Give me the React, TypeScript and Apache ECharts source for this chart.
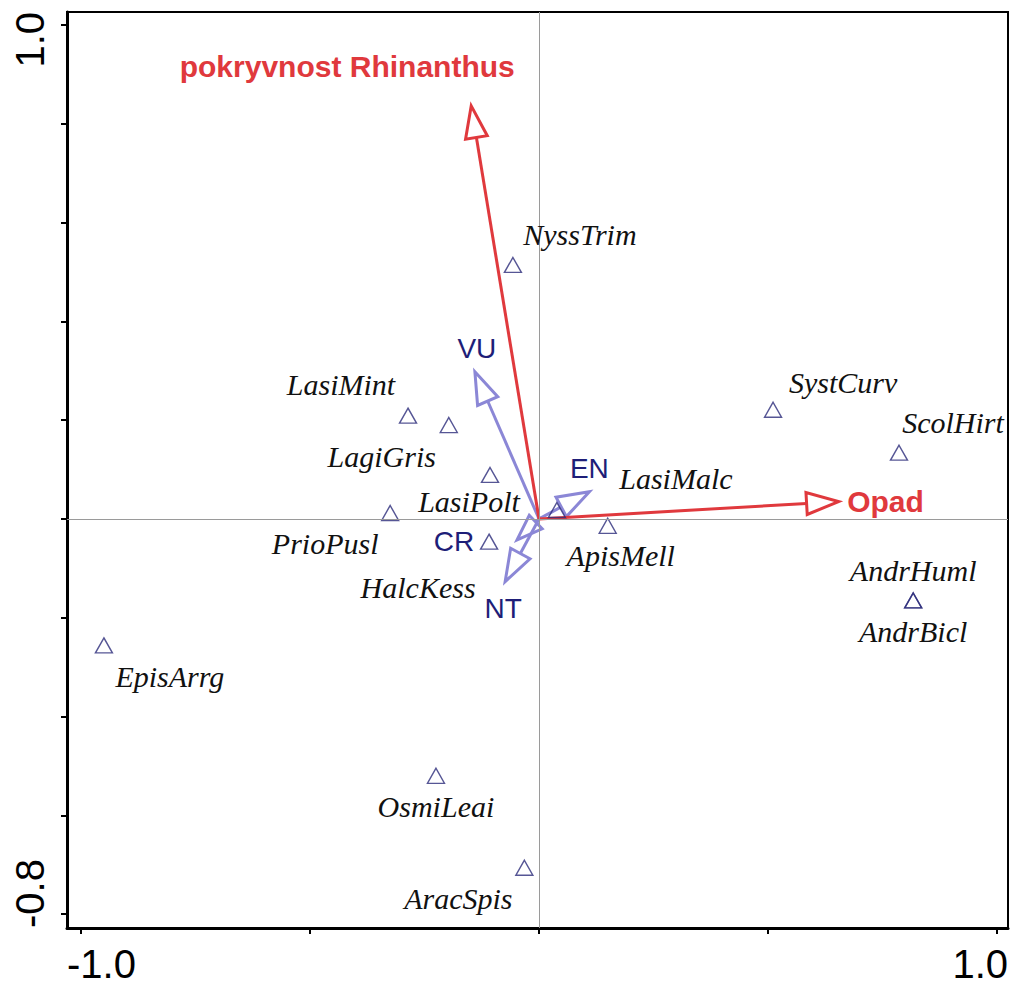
import React, { useEffect, useRef } from "react";
import * as echarts from "echarts";

// ---------- data ----------
const speciesNames = [
  "NyssTrim", "LasiMint", "LagiGris", "LasiPolt", "PrioPusl", "HalcKess", "LasiMalc",
  "ApisMell", "SystCurv", "ScolHirt", "AndrHuml", "AndrBicl", "EpisArrg", "OsmiLeai", "AracSpis",
];
const speciesX = [-0.057, -0.286, -0.197, -0.107, -0.325, -0.109, 0.039, 0.15, 0.511, 0.786, 0.817, 0.817, -0.95, -0.225, -0.032];
const speciesY = [0.514, 0.209, 0.19, 0.089, 0.012, -0.046, 0.018, -0.014, 0.221, 0.134, -0.165, -0.165, -0.256, -0.52, -0.706];

const envNames = ["pokryvnost Rhinanthus", "Opad"];
const envX = [-0.148, 0.654];
const envY = [0.836, 0.035];

const groupNames = ["VU", "EN", "CR", "NT"];
const groupX = [-0.14, 0.11, -0.048, -0.074];
const groupY = [0.298, 0.055, -0.0425, -0.127];

const xTickValues = [-1, -0.5, 0, 0.5, 1];
const yTickValues = [-0.8, -0.6, -0.4, -0.2, 0, 0.2, 0.4, 0.6, 0.8, 1.0];
const xTickLabels = ["-1.0", "1.0"];
const yTickLabels = ["-0.8", "1.0"];
const X_MIN = -1.0306;
const X_MAX = 1.024;
const Y_MIN = -0.828;
const Y_MAX = 1.026;

// ---------- layout / style ----------
const speciesLabelOffset: Record<string, [number, number]> = {
  NyssTrim: [67, -30],
  LasiMint: [-67, -31],
  LagiGris: [-67, 31],
  LasiPolt: [-21, 27],
  PrioPusl: [-65, 31],
  HalcKess: [-71, 46],
  LasiMalc: [119, -32],
  ApisMell: [13, 30],
  SystCurv: [70, -27],
  ScolHirt: [54, -30],
  AndrHuml: [0, -30],
  AndrBicl: [0, 31],
  EpisArrg: [66, 31],
  OsmiLeai: [0, 31],
  AracSpis: [-66, 31],
};
const envLabelOffset: [number, number][] = [[-124, -39], [47, 0]];
const groupLabelOffset: [number, number][] = [[2, -23], [0, -23], [-63, 2], [-2, 27]];

const RED = "#e0393d";
const LAVENDER = "#8b87d6";
const NAVY = "#1e1e78";
const TRI = "#2c2c7a";
const HEAD_LEN = 32;
const HEAD_W = 22;

function arrowRenderer(color: string, names: string[], offsets: [number, number][], textStyle: any) {
  return (params: any, api: any) => {
    const i = params.dataIndex;
    const o = api.coord([0, 0]);
    const t = api.coord([api.value(0), api.value(1)]);
    const dx = t[0] - o[0];
    const dy = t[1] - o[1];
    const len = Math.hypot(dx, dy) || 1;
    const ux = dx / len;
    const uy = dy / len;
    const hl = Math.min(HEAD_LEN, len * 0.85);
    const hw = (HEAD_W / 2) * Math.max(0.85, hl / HEAD_LEN);
    const bx = t[0] - ux * hl;
    const by = t[1] - uy * hl;
    const nx = -uy;
    const ny = ux;
    const children: any[] = [];
    if (len > hl) {
      children.push({
        type: "line",
        shape: { x1: o[0], y1: o[1], x2: bx, y2: by },
        style: { stroke: color, lineWidth: 3 },
      });
    }
    children.push({
      type: "polygon",
      shape: { points: [[t[0], t[1]], [bx + nx * hw, by + ny * hw], [bx - nx * hw, by - ny * hw]] },
      style: { stroke: color, fill: "#ffffff", lineWidth: 3, lineJoin: "miter" },
    });
    children.push({
      type: "text",
      x: t[0] + offsets[i][0],
      y: t[1] + offsets[i][1],
      style: { text: names[i], align: "center", verticalAlign: "middle", ...textStyle },
    });
    return { type: "group", children };
  };
}

function speciesLabelRenderer(params: any, api: any) {
  const i = params.dataIndex;
  const name = speciesNames[i];
  const p = api.coord([api.value(0), api.value(1)]);
  const off = speciesLabelOffset[name] || [0, 0];
  return {
    type: "text",
    x: p[0] + off[0],
    y: p[1] + off[1],
    style: {
      text: name,
      align: "center",
      verticalAlign: "middle",
      fill: "#111111",
      fontFamily: "Liberation Serif",
      fontStyle: "italic",
      fontSize: 30,
    },
  };
}

export default function App() {
  const ref = useRef<HTMLDivElement>(null);
  useEffect(() => {
    if (!ref.current) return;
    const chart = echarts.init(ref.current, undefined, { renderer: "svg" });
    const option: any = {
      animation: false,
      backgroundColor: "#ffffff",
      grid: {
        left: 67, top: 12, width: 941, height: 916,
        show: true, borderColor: "#000", borderWidth: 2, backgroundColor: "transparent",
      },
      xAxis: {
        type: "value", min: X_MIN, max: X_MAX,
        axisLine: { show: true, onZero: false, lineStyle: { color: "#000", width: 3 } },
        axisTick: { show: true, customValues: xTickValues, length: 6, lineStyle: { color: "#000", width: 2 } },
        axisLabel: {
          customValues: [X_MIN, X_MAX],
          formatter: (v: number) => (v < 0 ? xTickLabels[0] : xTickLabels[1]),
          fontSize: 40, fontFamily: "Liberation Sans", color: "#000", margin: 16,
          alignMinLabel: "left", alignMaxLabel: "right",
        },
        splitLine: { show: false },
      },
      yAxis: {
        type: "value", min: Y_MIN, max: Y_MAX,
        axisLine: { show: true, onZero: false, lineStyle: { color: "#000", width: 3 } },
        axisTick: { show: true, customValues: yTickValues, length: 6, lineStyle: { color: "#000", width: 2 } },
        axisLabel: {
          customValues: [Y_MIN, Y_MAX],
          formatter: (v: number) => (v < 0 ? yTickLabels[0] : yTickLabels[1]),
          rotate: 90,
          fontSize: 40, fontFamily: "Liberation Sans", color: "#000", margin: 17,
          alignMinLabel: "left", alignMaxLabel: "right",
        },
        splitLine: { show: false },
      },
      series: [
        {
          type: "scatter", z: 1, data: [], silent: true,
          markLine: {
            silent: true, symbol: "none", animation: false,
            label: { show: false },
            lineStyle: { color: "#9a9a9a", width: 1, type: "solid" },
            data: [{ xAxis: 0 }, { yAxis: 0 }],
          },
        },
        {
          type: "custom", z: 3, coordinateSystem: "cartesian2d",
          encode: { x: 0, y: 1 },
          data: groupNames.map((_, i) => [groupX[i], groupY[i]]),
          renderItem: arrowRenderer(LAVENDER, groupNames, groupLabelOffset, {
            fill: NAVY, fontSize: 28, fontFamily: "Liberation Sans",
          }),
        },
        {
          type: "custom", z: 3, coordinateSystem: "cartesian2d",
          encode: { x: 0, y: 1 },
          data: envNames.map((_, i) => [envX[i], envY[i]]),
          renderItem: arrowRenderer(RED, envNames, envLabelOffset, {
            fill: RED, fontSize: 30, fontWeight: "bold", fontFamily: "Liberation Sans",
          }),
        },
        {
          type: "scatter", z: 4,
          symbol: "triangle", symbolSize: [17, 15],
          itemStyle: { color: "transparent", borderColor: TRI, borderWidth: 1.4 },
          data: speciesNames.map((n, i) => ({ name: n, value: [speciesX[i], speciesY[i]] })),
        },
        {
          type: "custom", z: 5, coordinateSystem: "cartesian2d",
          encode: { x: 0, y: 1 },
          data: speciesNames.map((_, i) => [speciesX[i], speciesY[i]]),
          renderItem: speciesLabelRenderer,
        },
      ],
    };
    chart.setOption(option);
    return () => chart.dispose();
  }, []);
  return (
    <div
      ref={ref}
      style={{ position: "absolute", left: 0, top: 0, width: 1013, height: 985, background: "#fff" }}
    />
  );
}
